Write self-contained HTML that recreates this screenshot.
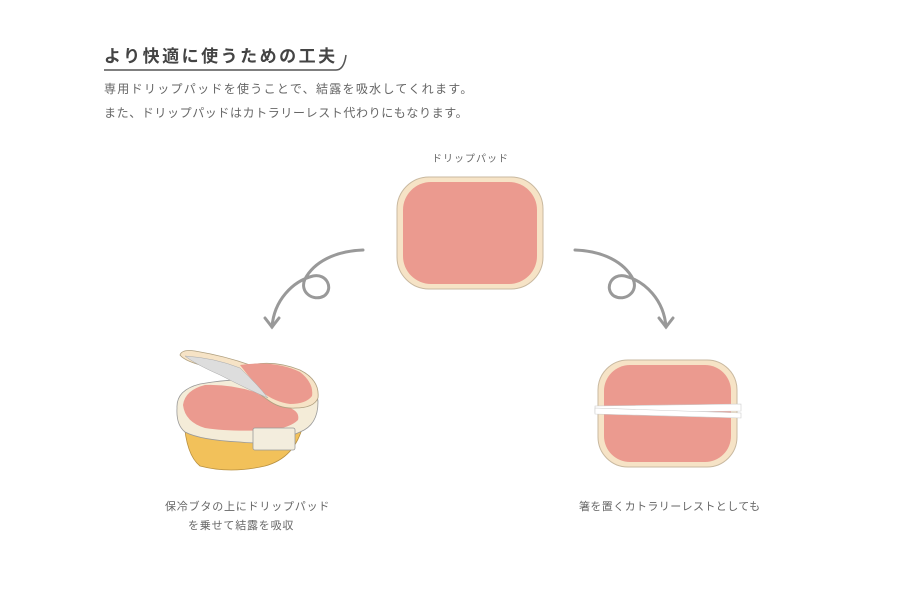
<!DOCTYPE html>
<html><head><meta charset="utf-8"><style>
body{margin:0;width:900px;height:600px;background:#fff;overflow:hidden;font-family:"Liberation Sans","Noto Sans CJK JP",sans-serif;color:#555}
.t{position:absolute;white-space:nowrap}
</style></head><body>
<div class="t" style="left:104px;top:42px;font-size:17px;font-weight:bold;letter-spacing:2.5px;color:#444">より快適に使うための工夫</div>
<div class="t" style="left:104px;top:80px;font-size:12px;letter-spacing:1.3px;color:#666">専用ドリップパッドを使うことで、結露を吸水してくれます。</div>
<div class="t" style="left:104px;top:104px;font-size:12px;letter-spacing:0.6px;color:#666">また、ドリップパッドはカトラリーレスト代わりにもなります。</div>
<div class="t" style="left:432px;top:150px;font-size:10px;letter-spacing:1px;color:#666">ドリップパッド</div>
<div class="t" style="left:165px;top:498px;font-size:11px;letter-spacing:0.8px;color:#666">保冷ブタの上にドリップパッド</div>
<div class="t" style="left:188px;top:517px;font-size:11px;letter-spacing:0.8px;color:#666">を乗せて結露を吸収</div>
<div class="t" style="left:579px;top:498px;font-size:11px;letter-spacing:0.4px;color:#666">箸を置くカトラリーレストとしても</div>
<svg width="900" height="600" style="position:absolute;left:0;top:0">
<path d="M104,70 H336 Q344,70 346,55" fill="none" stroke="#555" stroke-width="1.5"/>
<g fill="none" stroke="#999" stroke-width="3" stroke-linecap="round">
<path d="M363,250 C335,251 314,262 305,279 C299,292 313,302 324,296 C334,289 327,273 313,276 C293,281 274,300 272,327"/>
<path d="M265,318 L272,327 L279,318"/>
<path d="M575,250 C603,251 624,262 633,279 C639,292 625,302 614,296 C604,289 611,273 625,276 C645,281 664,300 666,327"/>
<path d="M659,318 L666,327 L673,318"/>
</g>
<rect x="397" y="177" width="146" height="112" rx="32" fill="#f6e3c6" stroke="#c9b9a0"/>
<rect x="403" y="182" width="134" height="102" rx="28" fill="#eb9a8f"/>
<rect x="598" y="360" width="139" height="107" rx="30" fill="#f6e3c6" stroke="#c9b9a0"/>
<rect x="604" y="365" width="127" height="97" rx="26" fill="#eb9a8f"/>
<path d="M595,406 L741,404 L741,411 L595,413 Z" fill="#fff" stroke="#ccc" stroke-width="0.6"/>
<path d="M595,408 L741,413 L741,418 L595,414 Z" fill="#fff" stroke="#ccc" stroke-width="0.6"/>
<path d="M184,420 Q186,455 200,466 Q230,474 265,466 Q295,458 303,425 L300,410 L186,410 Z" fill="#f2c15a" stroke="#b89040" stroke-width="0.8"/>
<path d="M177,408 Q176,390 200,384 Q245,376 290,382 Q318,388 318,402 Q318,425 300,432 Q270,446 240,442 Q200,440 185,432 Q176,425 177,408 Z" fill="#f4ecd8" stroke="#999" stroke-width="0.8"/>
<path d="M183,405 Q185,390 205,385 Q230,384 255,392 Q270,402 290,408 Q300,412 298,420 Q290,428 270,430 Q230,432 205,428 Q185,422 183,405Z" fill="#eb9a8f"/>
<rect x="253" y="428" width="42" height="22" rx="2" fill="#f3eddd" stroke="#999" stroke-width="0.8"/>
<path d="M180,355 Q182,349 195,351 Q225,356 250,365 Q275,360 300,370 Q320,380 318,398 Q314,408 295,408 Q280,409 268,400 Q240,380 212,368 Q185,362 180,355Z" fill="#f6e3c6" stroke="#b0a080" stroke-width="0.8"/>
<path d="M240,365 Q275,360 300,372 Q314,383 312,396 Q306,404 290,404 Q275,402 262,392 Q250,378 240,365Z" fill="#eb9a8f"/>
<path d="M185,356 Q215,358 240,368 Q258,385 268,398 Q245,388 220,375 Q195,364 185,356Z" fill="#ddd" stroke="#aaa" stroke-width="0.5"/>
</svg>
</body></html>
